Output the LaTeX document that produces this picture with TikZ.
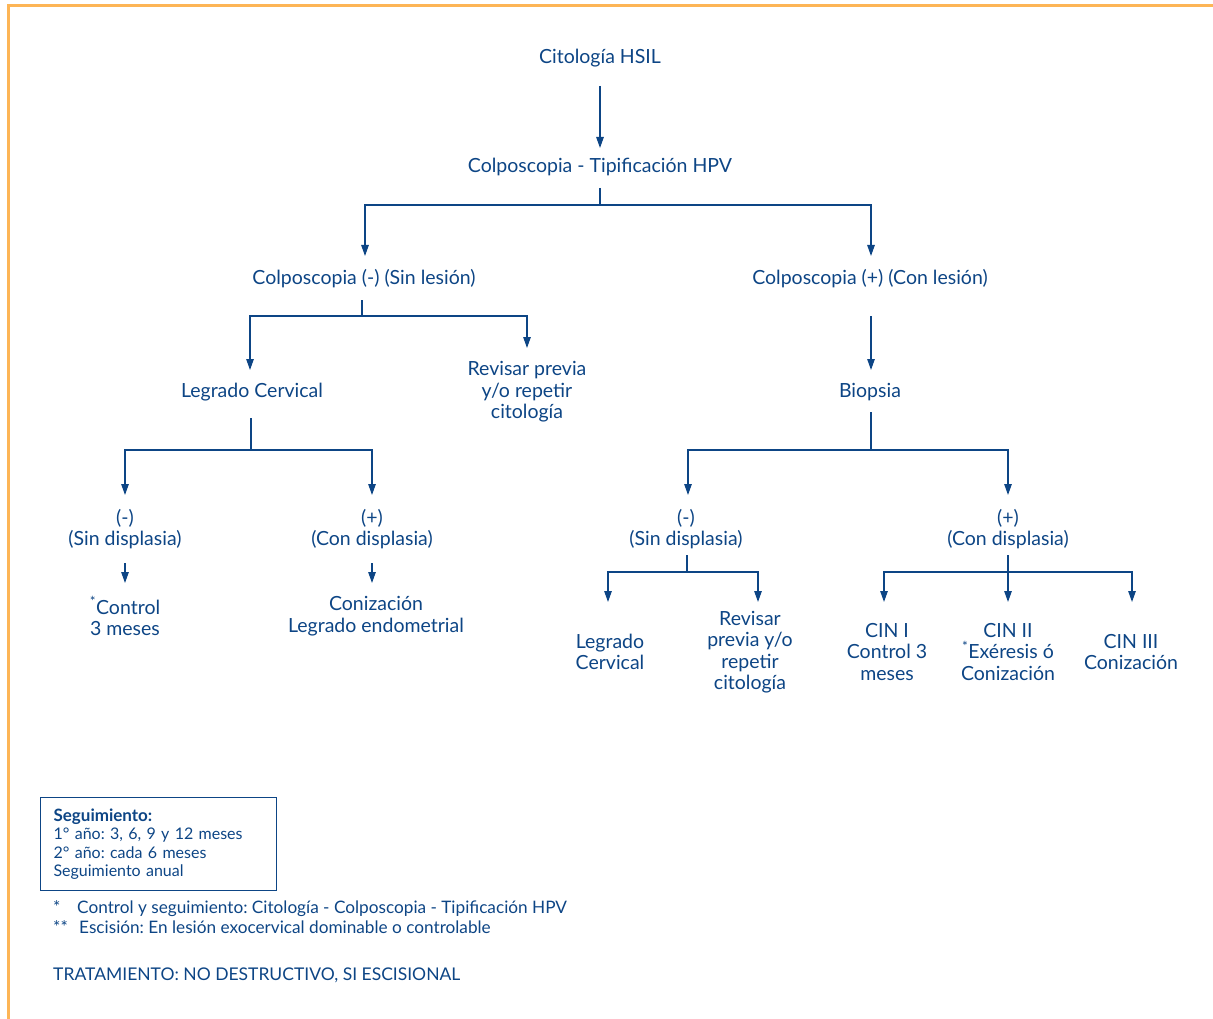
\documentclass[tikz,border=0pt]{standalone}
\usepackage{fontspec}
\setmainfont{Lato}
\usetikzlibrary{arrows.meta}
\definecolor{navy}{HTML}{0D4585}
\definecolor{frame}{HTML}{FDB556}
\frenchspacing
\begin{document}
\begin{tikzpicture}[x=1pt,y=-1pt,
  txt/.style={align=center, text=navy, font=\fontsize{19.5}{21.5}\selectfont, inner sep=0pt},
  ln/.style={draw=navy, line width=1.25pt},
  arr/.style={ln, -{Triangle[length=11pt,width=7.5pt]}},
  small/.style={text=navy, font=\fontsize{16}{18.5}\selectfont, inner sep=0pt, align=left}]
\useasboundingbox (0,0) rectangle (1213,1019);
% page frame
\draw[frame, line width=3pt] (8,1019) -- (8,6) -- (1213,6);

% nodes
\node[txt] (hsil)  at (600,58)  {Citología HSIL};
\node[txt] (colpo) at (600,167) {Colposcopia - Tipificación HPV};
\node[txt] (neg)   at (364,279) {Colposcopia (-) (Sin lesión)};
\node[txt] (pos)   at (870,279) {Colposcopia (+) (Con lesión)};
\node[txt] (lc)    at (252,392) {Legrado Cervical};
\node[txt] (rev1)  at (527,392) {Revisar previa\\y/o repetir\\citología};
\node[txt] (bio)   at (870,392) {Biopsia};
\node[txt] (sd1)   at (125,529) {(-)\\(Sin displasia)};
\node[txt] (cd1)   at (372,529) {(+)\\(Con displasia)};
\node[txt] (ctl)   at (125,616) {\textsuperscript{*}Control\\3 meses};
\node[txt] (coni)  at (376,616) {Conización\\Legrado endometrial};
\node[txt] (sd2)   at (686,529) {(-)\\(Sin displasia)};
\node[txt] (cd2)   at (1008,529) {(+)\\(Con displasia)};
\node[txt] (lc2)   at (610,652) {Legrado\\Cervical};
\node[txt] (rev2)  at (750,652) {Revisar\\previa y/o\\repetir\\citología};
\node[txt] (cin1)  at (887,652) {CIN I\\Control 3\\meses};
\node[txt] (cin2)  at (1008,652) {CIN II\\\textsuperscript{*}Exéresis ó\\Conización};
\node[txt] (cin3)  at (1131,652) {CIN III\\Conización};

% arrow ends that sit off the text centres
\coordinate (lcA)   at (250,370);
\coordinate (sd2J)  at (687,572);
\coordinate (lc2A)  at (608,602);
\coordinate (rev2A) at (758,602);
\coordinate (cin1A) at (884,602);
\coordinate (cin3A) at (1132,602);

% connectors
\draw[arr] (hsil |- 0,86) -- (hsil |- 0,148);
\draw[ln]  (colpo |- 0,188) -- (colpo |- 0,205);
\draw[arr] (colpo |- 0,205) -| (365,256);
\draw[arr] (colpo |- 0,205) -| (871,256);

\draw[ln]  (362,300) -- (362,316);
\draw[arr] (362,316) -| (lcA);
\draw[arr] (362,316) -| (rev1 |- 0,348);
\draw[arr] (871,316) -- (871,370);

\draw[ln]  (251,418) -- (251,450);
\draw[arr] (251,450) -| (sd1 |- 0,495);
\draw[arr] (251,450) -| (cd1 |- 0,495);
\draw[arr] (sd1 |- 0,563) -- (sd1 |- 0,583);
\draw[arr] (cd1 |- 0,563) -- (cd1 |- 0,583);

\draw[ln]  (871,412) -- (871,450);
\draw[arr] (871,450) -| (688,495);
\draw[arr] (871,450) -| (cd2 |- 0,495);

\draw[ln]  (sd2J |- 0,555) -- (sd2J);
\draw[arr] (sd2J) -| (lc2A);
\draw[arr] (sd2J) -| (rev2A);

\draw[ln]  (cd2 |- 0,555) -- (cd2 |- 0,572);
\draw[arr] (cd2 |- 0,572) -| (cin1A);
\draw[arr] (cd2 |- 0,572) -- (cd2 |- 0,602);
\draw[arr] (cd2 |- 0,572) -| (cin3A);

% follow-up box
\node[small, draw=navy, line width=1.1pt, anchor=north west,
      minimum width=236pt, minimum height=93pt, text width=210pt,
      inner xsep=13pt, font=\fontsize{16}{18.5}\selectfont] (seg) at (40,797)
  {{\fontsize{17}{18.5}\selectfont\bfseries Seguimiento:}\\1° año: 3, 6, 9 y 12 meses\\2° año: cada 6 meses\\Seguimiento anual};

% notes
\node[small, anchor=west, font=\fontsize{17.2}{18}\selectfont] (n1) at (53,909) {\makebox[24pt][l]{*}Control y seguimiento: Citología - Colposcopia - Tipificación HPV};
\node[small, anchor=west, font=\fontsize{17.2}{18}\selectfont] (n2) at (53,927) {\makebox[26pt][l]{**}Escisión: En lesión exocervical dominable o controlable};
\node[small, anchor=west, font=\fontsize{17.5}{18}\selectfont] (trat) at (53,975) {TRATAMIENTO: NO DESTRUCTIVO, SI ESCISIONAL};
\end{tikzpicture}
\end{document}
